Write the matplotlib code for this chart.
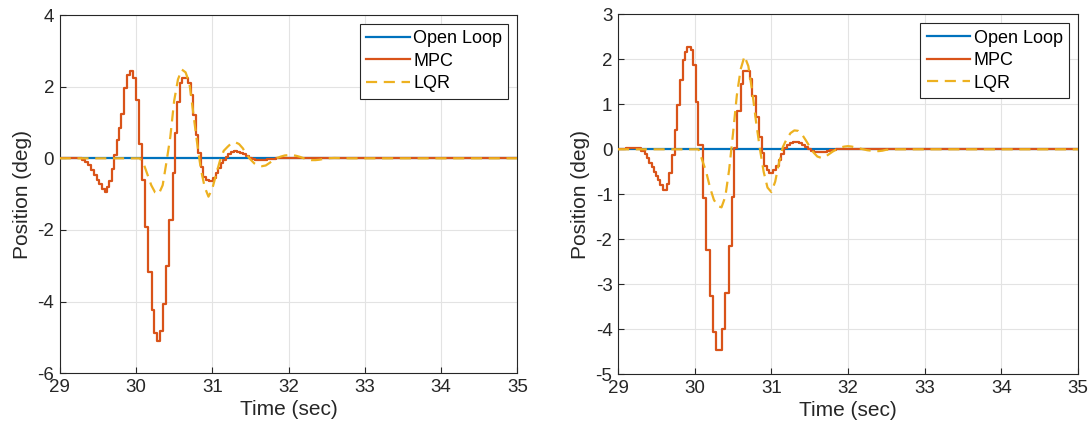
import matplotlib
matplotlib.use("Agg")
import matplotlib.pyplot as plt
import numpy as np

plt.rcParams['font.family'] = ['Liberation Sans', 'DejaVu Sans']
plt.rcParams['axes.unicode_minus'] = False

# ---------------- data ----------------
# Left panel
mpc1_t = [29.00, 29.29, 29.33, 29.37, 29.41, 29.45, 29.49, 29.52, 29.55, 29.59,
          29.62, 29.65, 29.68, 29.71, 29.745, 29.78, 29.81, 29.845, 29.88, 29.92,
          29.965, 30.00, 30.04, 30.075, 30.118, 30.161, 30.205, 30.24, 30.279, 30.314,
          30.349, 30.393, 30.437, 30.48, 30.511, 30.542, 30.577, 30.607, 30.686, 30.716,
          30.751, 30.786, 30.817, 30.848, 30.882, 30.917, 30.961, 31.013, 31.048, 31.079,
          31.114, 31.145, 31.18, 31.21, 31.25, 31.28, 31.32, 31.36, 31.40, 31.44,
          31.48, 31.52, 31.56, 31.60, 31.64, 31.68, 31.72, 31.76, 31.80, 31.84,
          31.90, 32.00, 32.10, 32.20, 32.40, 35.00]
mpc1_y = [0.00, -0.04, -0.10, -0.20, -0.33, -0.47, -0.60, -0.72, -0.86, -0.93,
          -0.80, -0.62, -0.30, 0.10, 0.50, 0.85, 1.25, 1.95, 2.33, 2.45,
          2.23, 1.63, 0.40, -0.61, -1.93, -3.18, -4.22, -4.87, -5.09, -4.83,
          -4.07, -3.00, -1.72, -0.42, 0.70, 1.58, 2.09, 2.23, 2.09, 1.77,
          1.21, 0.65, 0.14, -0.23, -0.51, -0.60, -0.63, -0.56, -0.42, -0.28,
          -0.14, -0.05, 0.05, 0.12, 0.18, 0.20, 0.19, 0.16, 0.11, 0.06,
          0.02, -0.02, -0.04, -0.05, -0.05, -0.04, -0.03, -0.02, -0.01, 0.00,
          0.01, 0.02, 0.02, 0.01, 0.00, 0.00]

lqr1_t = [29.00, 30.05, 30.10, 30.15, 30.20, 30.25, 30.30, 30.35, 30.40, 30.45,
          30.50, 30.55, 30.60, 30.65, 30.70, 30.75, 30.80, 30.85, 30.90, 30.95,
          31.00, 31.05, 31.10, 31.15, 31.20, 31.25, 31.30, 31.35, 31.40, 31.45,
          31.50, 31.55, 31.60, 31.65, 31.70, 31.75, 31.80, 31.85, 31.90, 31.95,
          32.00, 32.05, 32.10, 32.15, 32.20, 32.25, 32.30, 32.35, 32.40, 32.45,
          32.50, 32.60, 32.80, 35.00]
lqr1_y = [0.00, 0.00, -0.15, -0.45, -0.75, -0.95, -0.99, -0.75, -0.10, 0.60,
          1.60, 2.20, 2.48, 2.40, 2.10, 1.28, 0.45, -0.30, -0.80, -1.07,
          -0.85, -0.45, -0.07, 0.21, 0.32, 0.42, 0.45, 0.40, 0.28, 0.10,
          -0.03, -0.14, -0.20, -0.22, -0.20, -0.13, -0.05, 0.01, 0.05, 0.08,
          0.09, 0.09, 0.07, 0.04, 0.00, -0.03, -0.05, -0.05, -0.04, -0.02,
          0.00, 0.01, 0.00, 0.00]

# Right panel
mpc2_t = [29.00, 29.10, 29.306, 29.35, 29.38, 29.407, 29.44, 29.468, 29.50, 29.52,
          29.546, 29.59, 29.633, 29.668, 29.70, 29.742, 29.773, 29.808, 29.842, 29.873,
          29.903, 29.947, 29.982, 30.017, 30.047, 30.104, 30.148, 30.20, 30.244, 30.279,
          30.353, 30.396, 30.453, 30.483, 30.514, 30.558, 30.601, 30.636, 30.723, 30.754,
          30.797, 30.841, 30.876, 30.906, 30.941, 30.972, 31.028, 31.063, 31.094, 31.128,
          31.159, 31.20, 31.24, 31.28, 31.32, 31.36, 31.40, 31.44, 31.48, 31.52,
          31.56, 31.60, 31.64, 31.68, 31.72, 31.76, 31.80, 31.84, 31.95, 32.10,
          32.30, 35.00]
mpc2_y = [0.00, 0.02, -0.04, -0.11, -0.20, -0.30, -0.39, -0.50, -0.59, -0.68,
          -0.80, -0.90, -0.78, -0.53, -0.13, 0.43, 0.99, 1.54, 1.99, 2.17,
          2.27, 2.21, 1.87, 1.06, 0.10, -1.09, -2.24, -3.27, -4.05, -4.46,
          -4.00, -3.20, -2.16, -1.05, 0.02, 0.86, 1.45, 1.75, 1.56, 1.19,
          0.71, 0.27, -0.09, -0.37, -0.47, -0.52, -0.47, -0.36, -0.23, -0.10,
          0.02, 0.09, 0.14, 0.16, 0.16, 0.13, 0.09, 0.05, 0.01, -0.03,
          -0.05, -0.06, -0.06, -0.05, -0.03, -0.02, -0.01, 0.00, 0.01, 0.01,
          0.00, 0.00]

lqr2_t = [29.00, 30.05, 30.10, 30.15, 30.20, 30.25, 30.30, 30.35, 30.40, 30.45,
          30.50, 30.55, 30.60, 30.65, 30.70, 30.75, 30.80, 30.85, 30.90, 30.95,
          31.00, 31.05, 31.10, 31.15, 31.20, 31.25, 31.30, 31.35, 31.40, 31.45,
          31.50, 31.55, 31.60, 31.65, 31.70, 31.75, 31.80, 31.85, 31.90, 31.95,
          32.00, 32.05, 32.10, 32.15, 32.20, 32.25, 32.30, 32.35, 32.40, 32.45,
          32.50, 32.60, 35.00]
lqr2_y = [0.00, 0.00, -0.25, -0.50, -0.85, -1.12, -1.26, -1.29, -1.05, -0.45,
          0.35, 1.20, 1.78, 2.07, 1.85, 1.30, 0.62, 0.02, -0.50, -0.85,
          -0.95, -0.72, -0.30, 0.05, 0.23, 0.36, 0.42, 0.41, 0.33, 0.20,
          0.06, -0.07, -0.16, -0.19, -0.17, -0.11, -0.05, 0.00, 0.04, 0.06,
          0.07, 0.06, 0.04, 0.02, 0.00, -0.02, -0.03, -0.04, -0.04, -0.03,
          -0.01, 0.00, 0.00]

open_t = [29.0, 35.0]
open_y = [0.0, 0.0]

x_ticks = [29, 30, 31, 32, 33, 34, 35]
y_ticks_left = [-6, -4, -2, 0, 2, 4]
y_ticks_right = [-5, -4, -3, -2, -1, 0, 1, 2, 3]

# ---------------- style ----------------
C_OPEN = '#0072BD'
C_MPC = '#D95319'
C_LQR = '#EDB120'
AX_COL = '#262626'

fig = plt.figure(figsize=(10.89, 4.34), dpi=100)
ax1 = fig.add_axes([0.0548, 0.1399, 0.4204, 0.8255])
ax2 = fig.add_axes([0.5675, 0.1376, 0.4224, 0.8294])

panels = [
    (ax1, mpc1_t, mpc1_y, lqr1_t, lqr1_y, (-6, 4), y_ticks_left),
    (ax2, mpc2_t, mpc2_y, lqr2_t, lqr2_y, (-5, 3), y_ticks_right),
]

for ax, mt, my, lt, ly, ylim, yt in panels:
    ax.plot(open_t, open_y, color=C_OPEN, lw=1.6, label='Open Loop', zorder=3)
    ax.step(mt, my, where='post', color=C_MPC, lw=1.6, label='MPC', zorder=4)
    ax.plot(lt, ly, color=C_LQR, lw=1.6, ls=(0, (5, 3)), label='LQR', zorder=5)
    ax.set_xlim(29, 35)
    ax.set_ylim(*ylim)
    ax.set_xticks(x_ticks)
    ax.set_yticks(yt)
    ax.grid(True, color='#e3e3e3', lw=0.8)
    ax.set_axisbelow(True)
    ax.tick_params(direction='in', length=4, width=0.8, colors=AX_COL,
                   labelsize=13.5, pad=4)
    for sp in ax.spines.values():
        sp.set_color(AX_COL)
        sp.set_linewidth(0.8)
    ax.set_xlabel('Time (sec)', fontsize=15, color=AX_COL, labelpad=3)
    ax.set_ylabel('Position (deg)', fontsize=15, color=AX_COL, labelpad=4)
    leg = ax.legend(loc='upper right', fontsize=13, frameon=True, fancybox=False,
                    handlelength=2.4, handletextpad=0.2, borderpad=0.35,
                    labelspacing=0.3, borderaxespad=0.5)
    leg.get_frame().set_edgecolor(AX_COL)
    leg.get_frame().set_linewidth(0.8)
    leg.get_frame().set_alpha(1.0)

fig.savefig('out.png', dpi=100)
